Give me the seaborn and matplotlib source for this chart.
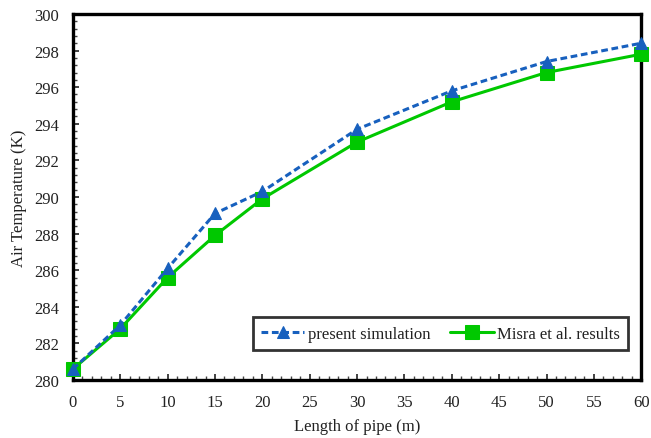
import matplotlib
matplotlib.use("Agg")
import matplotlib.pyplot as plt
import seaborn as sns
import pandas as pd
from matplotlib.ticker import MultipleLocator

length_m = [0, 5, 10, 15, 20, 30, 40, 50, 60]
present_sim = [280.6, 283.0, 286.1, 289.1, 290.3, 293.7, 295.8, 297.4, 298.4]
misra = [280.6, 282.8, 285.6, 287.9, 289.9, 293.0, 295.2, 296.8, 297.8]

sns.set_theme(style="white")
plt.rcParams['font.family'] = ['Liberation Serif', 'DejaVu Serif']

fig = plt.figure(figsize=(6.51, 4.39), dpi=100)
ax = fig.add_axes([0.112, 0.132, 0.873, 0.834])

df1 = pd.DataFrame({"x": length_m, "y": present_sim})
df2 = pd.DataFrame({"x": length_m, "y": misra})

sns.lineplot(data=df1, x="x", y="y", ax=ax, color="#1760BE", linewidth=2.2,
             marker="^", markersize=8, markeredgecolor="#1760BE",
             label="present simulation", zorder=4, clip_on=False)
ax.lines[-1].set_linestyle((0, (2.2, 1.2)))
sns.lineplot(data=df2, x="x", y="y", ax=ax, color="#00C800", linewidth=2.2,
             marker="s", markersize=10, markeredgecolor="#00C800",
             label="Misra et al. results", zorder=3, clip_on=False)

ax.set_xlim(0, 60)
ax.set_ylim(280, 300)
ax.xaxis.set_major_locator(MultipleLocator(5))
ax.xaxis.set_minor_locator(MultipleLocator(1))
ax.yaxis.set_major_locator(MultipleLocator(2))
ax.yaxis.set_minor_locator(MultipleLocator(0.4))
ax.tick_params(axis="both", which="major", direction="in", length=4, width=1.2,
               labelsize=12, colors="#222222", pad=10)
ax.tick_params(axis="both", which="minor", direction="in", length=3, width=1,
               colors="#444444")
ax.tick_params(bottom=True, left=True, which="both")
for lbl in ax.get_xticklabels() + ax.get_yticklabels():
    lbl.set_color("#222222")

for s in ax.spines.values():
    s.set_visible(True)
    s.set_color("black")
    s.set_linewidth(2.4)
    s.set_zorder(2.5)

ax.set_xlabel("Length of pipe (m)", fontsize=12, color="#222222", labelpad=6)
ax.set_ylabel("Air Temperature (K)", fontsize=12, color="#222222", labelpad=5)

leg = ax.legend(loc="lower right", bbox_to_anchor=(0.977, 0.082), ncol=2,
                fontsize=12, frameon=True, fancybox=False, borderpad=0.5,
                borderaxespad=0, handlelength=2.6, columnspacing=1.2,
                handletextpad=0.2)
leg.get_frame().set_edgecolor("black")
leg.get_frame().set_linewidth(2.0)
for t in leg.get_texts():
    t.set_color("#222222")

fig.savefig("out.png", dpi=100)
